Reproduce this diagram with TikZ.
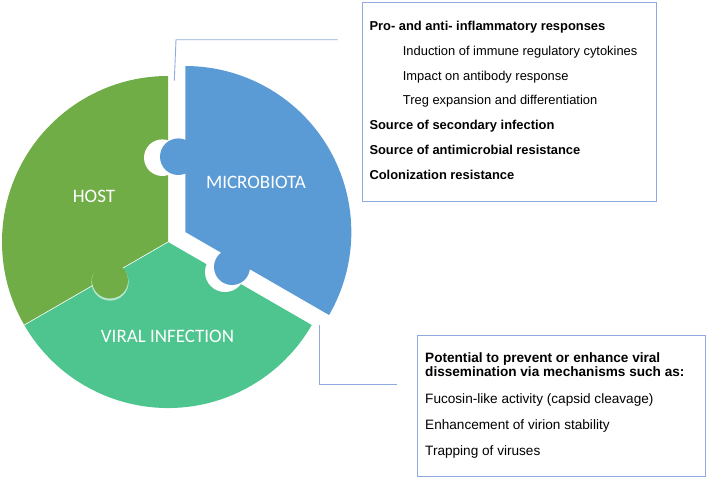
\documentclass[tikz,border=0pt]{standalone}
\usepackage{fontspec}
\setmainfont{Liberation Sans}
\newfontfamily\calibri{Carlito}
\definecolor{host}{RGB}{112,173,71}
\definecolor{micro}{RGB}{91,155,213}
\definecolor{viral}{RGB}{78,196,142}
\definecolor{callout}{RGB}{143,170,220}

\begin{document}
\begin{tikzpicture}[x=1pt,y=1pt,
	piecelabel/.style={text=white, font=\calibri\fontsize{19}{22}\selectfont, inner sep=0pt},
	boxline/.style={anchor=base west, inner sep=0pt, font=\fontsize{12.9}{14}\selectfont},
	boxlinebig/.style={boxline, font=\fontsize{13.6}{15}\selectfont},
	calloutline/.style={draw=callout, line width=0.9pt}]
	\useasboundingbox (0,0) rectangle (708,-479);

	% host
	\fill[host] (168,-242) -- ++(90:166pt) arc[start angle=90, end angle=210, radius=166pt] -- cycle;
	% viral infection
	\fill[viral] (168,-242) -- ++(210:166pt) arc[start angle=210, end angle=330, radius=166pt] -- cycle;
	\draw[white, line width=0.6pt] (168,-242) -- ++(210:166pt);

	% trous
	\fill[white] (162.3,-157.7) circle[radius=18.3pt];
	\fill[white] (225,-272) circle[radius=20pt];

	% microbiota
	\fill[micro] (185.3,-232) -- ++(-30:166pt) arc[start angle=-30, end angle=90, radius=166pt] -- cycle;
	\fill[micro] (178.3,-156.7) circle[radius=18.3pt];
	\fill[micro] (232,-267) circle[radius=18pt];

	% tenon host
	\fill[white, opacity=0.6] (110,-282) circle[radius=18.6pt];
	\fill[host] (110,-280.5) circle[radius=18pt];

	\node[piecelabel] (hostlbl) at (94,-196) {HOST};
	\node[piecelabel] (microlbl) at (256,-182) {MICROBIOTA};
	\node[piecelabel] (virallbl) at (167.5,-336) {VIRAL INFECTION};

	% cadres
	\draw[calloutline] (362.7,-2.7) rectangle (656.7,-201.7);
	\draw[calloutline] (417.3,-335) rectangle (705,-476);

	\foreach \y/\x/\txt [count=\i] in {
		30.7/369.3/{\bfseries Pro- and anti- inflammatory responses},
		55/402.7/{Induction of immune regulatory cytokines},
		80/402.7/{Impact on antibody response},
		104.3/402.7/{Treg expansion and differentiation},
		129.3/369.3/{\bfseries Source of secondary infection},
		154.3/369.3/{\bfseries Source of antimicrobial resistance},
		179.3/369.3/{\bfseries Colonization resistance}} {
		\node[boxline] (mline\i) at (\x,-\y) {\txt};
	}

	\foreach \y/\txt [count=\i] in {
		362.7/{\bfseries Potential to prevent or enhance viral},
		376/{\bfseries dissemination via mechanisms such as:},
		403.3/{Fucosin-like activity (capsid cleavage)},
		429.3/{Enhancement of virion stability},
		455/{Trapping of viruses}} {
		\node[boxlinebig] (vline\i) at (425,-\y) {\txt};
	}

	% fleches
	\coordinate (ma) at (174.3,-80.7);
	\coordinate (mb) at (176,-39.7);
	\coordinate (mc) at (337.7,-39.7);
	\draw[calloutline] (ma) -- (mb) -- (mc);

	\coordinate (va) at (319.3,-325);
	\coordinate (vb) at (319.3,-384.3);
	\coordinate (vc) at (397,-384.3);
	\draw[calloutline] (va) -- (vb) -- (vc);
\end{tikzpicture}
\end{document}
